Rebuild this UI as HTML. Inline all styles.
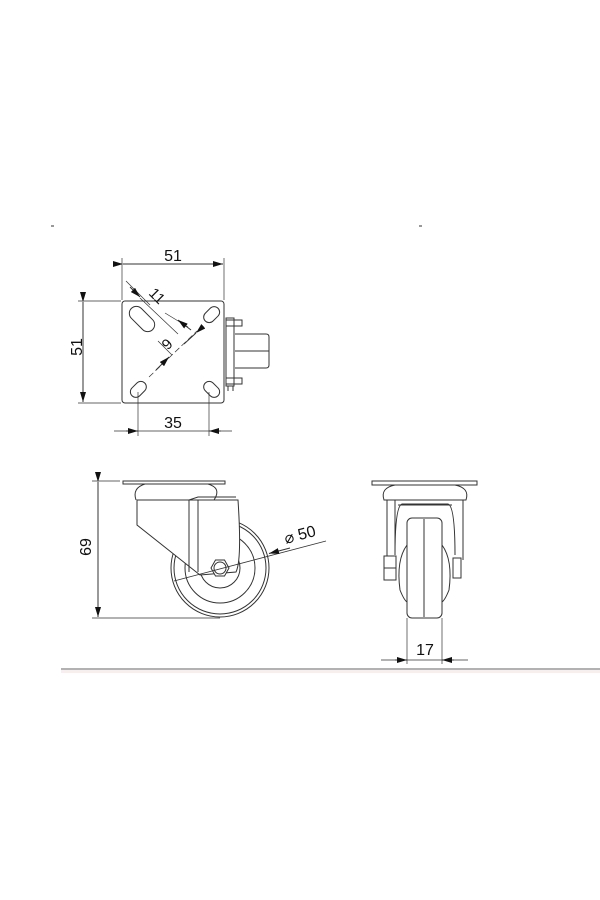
<!DOCTYPE html>
<html><head><meta charset="utf-8"><style>
html,body{margin:0;padding:0;background:#fff;}
svg{display:block;}
text{font-family:"Liberation Sans",sans-serif;fill:#111;}
</style></head><body>
<svg width="600" height="900" viewBox="0 0 600 900" xmlns="http://www.w3.org/2000/svg">
<defs>
<marker id="a" markerWidth="10" markerHeight="6" refX="10" refY="3" orient="auto" markerUnits="userSpaceOnUse"><path d="M0,0 L10,3 L0,6z" fill="#111"/></marker>
</defs>
<g stroke="#333" stroke-width="1" fill="none">
<line x1="51" y1="226" x2="54" y2="226"/>
<line x1="419" y1="226" x2="422" y2="226"/>

<!-- TOP VIEW -->
<rect x="122" y="301" width="102" height="102" rx="3"/>
<g transform="rotate(45 142 319)"><rect x="127" y="312" width="30" height="14" rx="7"/></g>
<g transform="rotate(-45 212 315)"><rect x="203" y="309" width="18" height="11" rx="5.5"/></g>
<g transform="rotate(-45 138 389)"><rect x="129" y="384" width="18" height="11" rx="5.5"/></g>
<g transform="rotate(45 212 389)"><rect x="203" y="384" width="18" height="11" rx="5.5"/></g>
<rect x="226" y="318" width="8" height="68"/>
<rect x="226" y="320" width="16" height="6"/>
<rect x="226" y="378" width="16" height="6"/>
<path d="M235 334 H266 Q269 334 269 337 V365 Q269 368 266 368 H235"/>
<line x1="235" y1="351" x2="269" y2="351"/>
<line x1="228" y1="386" x2="228" y2="391"/><line x1="233" y1="386" x2="233" y2="391"/>
<line x1="122" y1="258" x2="122" y2="300" stroke-width="0.7"/>
<line x1="224" y1="258" x2="224" y2="300" stroke-width="0.7"/>
<line x1="123" y1="264" x2="223" y2="264" marker-start="url(#a)" marker-end="url(#a)"/>
<line x1="78" y1="301" x2="121" y2="301" stroke-width="0.7"/>
<line x1="78" y1="403" x2="121" y2="403" stroke-width="0.7"/>
<line x1="83" y1="302" x2="83" y2="402" marker-start="url(#a)" marker-end="url(#a)"/>
<line x1="138" y1="392" x2="138" y2="436" stroke-width="0.7"/>
<line x1="209" y1="392" x2="209" y2="436" stroke-width="0.7"/>
<line x1="114" y1="431" x2="232" y2="431" stroke-width="0.7"/>
<line x1="126" y1="431" x2="138" y2="431" marker-end="url(#a)"/>
<line x1="221" y1="431" x2="209" y2="431" marker-end="url(#a)"/>
<!-- 11 -->
<line x1="126" y1="281" x2="150" y2="305" stroke-width="0.7"/>
<line x1="130" y1="287" x2="140" y2="297" marker-end="url(#a)"/>
<line x1="140" y1="298" x2="178" y2="334" stroke-width="0.7"/>
<line x1="165" y1="313" x2="188" y2="327" stroke-width="0.7"/>
<line x1="191" y1="330" x2="178" y2="320" marker-end="url(#a)"/>
<!-- 6 -->
<line x1="149" y1="377" x2="197" y2="331" stroke-width="0.7" stroke-dasharray="6 3"/>
<line x1="196" y1="333" x2="184" y2="344" marker-start="url(#a)"/>
<line x1="156" y1="370" x2="169" y2="357" marker-end="url(#a)"/>
<line x1="158" y1="341" x2="172" y2="355" stroke-width="0.7"/>

<!-- SIDE VIEW -->
<rect x="123" y="481" width="102" height="3"/>
<path d="M136 500 Q132 488 145 484 H208 Q222 488 214 500"/>
<line x1="137" y1="500" x2="214" y2="500"/>
<circle cx="220" cy="568" r="49"/>
<circle cx="220" cy="568" r="46"/>
<circle cx="220" cy="568" r="35"/>
<circle cx="220" cy="568" r="20"/>
<path d="M137 500 V525 L200 575 L236 572 Q242 560 238 500 Z" fill="#fff"/>
<path d="M189 500 V572"/><path d="M198 500 V572"/><path d="M189 500 L198 497 H236"/>
<polygon points="211,568 215.5,560 224.5,560 229,568 224.5,576 215.5,576" fill="#fff"/>
<circle cx="220" cy="568" r="6"/>
<line x1="92" y1="481" x2="120" y2="481" stroke-width="0.7"/>
<line x1="92" y1="618" x2="220" y2="618" stroke-width="0.7"/>
<line x1="98" y1="482" x2="98" y2="617" marker-start="url(#a)" marker-end="url(#a)"/>
<line x1="174" y1="581" x2="326" y2="541" stroke-width="0.8"/>
<line x1="290" y1="548" x2="269" y2="553.5" marker-end="url(#a)"/>

<!-- FRONT VIEW -->
<rect x="372" y="481" width="105" height="4"/>
<path d="M384 500 Q380 488 395 485 H455 Q470 488 466 500 Z"/>
<path d="M387 500 V560 M395 500 V555 Q395 506 402 504 H448 Q455 506 455 555 M463 500 V560 M387 500 H463"/>
<path d="M398 505 H452"/>
<rect x="407" y="518" width="35" height="100" rx="5" fill="#fff"/>
<line x1="424" y1="519" x2="424" y2="617"/>
<path d="M407 545 Q396 560 400 590 Q404 600 407 602"/>
<path d="M442 545 Q453 560 449 590 Q445 600 442 602"/>
<rect x="384" y="556" width="12" height="24" fill="#fff"/>
<line x1="384" y1="568" x2="396" y2="568"/>
<rect x="453" y="558" width="8" height="20"/>
<line x1="407" y1="618" x2="407" y2="664" stroke-width="0.7"/>
<line x1="442" y1="618" x2="442" y2="664" stroke-width="0.7"/>
<line x1="381" y1="660" x2="468" y2="660" stroke-width="0.7"/>
<line x1="395" y1="660" x2="407" y2="660" marker-end="url(#a)"/>
<line x1="454" y1="660" x2="442" y2="660" marker-end="url(#a)"/>
</g>
<line x1="61" y1="669" x2="600" y2="669" stroke="#999" stroke-width="1.5"/>
<rect x="61" y="670" width="539" height="3" fill="#f7eeee"/>

<text x="173" y="261" font-size="16" text-anchor="middle">51</text>
<text x="77" y="352" font-size="16" text-anchor="middle" transform="rotate(-90 77 347)">51</text>
<text x="173" y="428" font-size="16" text-anchor="middle">35</text>
<text x="157" y="301" font-size="15" text-anchor="middle" transform="rotate(45 157 296)">11</text>
<text x="167" y="349" font-size="15" text-anchor="middle" transform="rotate(135 167 344)">6</text>
<text x="93" y="555" font-size="16" text-anchor="middle" transform="rotate(-90 88 552)">69</text>
<text x="300" y="540" font-size="16" text-anchor="middle" transform="rotate(-15 300 535)">⌀ 50</text>
<text x="425" y="655" font-size="16" text-anchor="middle">17</text>
</svg>
</body></html>
